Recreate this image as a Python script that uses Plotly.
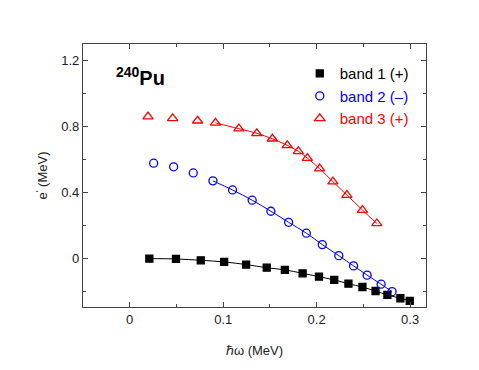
import plotly.graph_objects as go

# band 1 (+)
b1_x = [0.021, 0.0495, 0.076, 0.101, 0.1245, 0.1466, 0.166, 0.185, 0.2025, 0.2188, 0.234, 0.249, 0.263, 0.2757, 0.2896, 0.2996]
b1_y = [0.0, -0.002, -0.01, -0.02, -0.036, -0.055, -0.068, -0.089, -0.109, -0.129, -0.152, -0.172, -0.196, -0.22, -0.24, -0.256]
# band 2 (-)
b2_x = [0.0256, 0.047, 0.068, 0.089, 0.110, 0.131, 0.151, 0.170, 0.189, 0.206, 0.2237, 0.2395, 0.254, 0.269, 0.2807]
b2_y = [0.578, 0.556, 0.519, 0.471, 0.416, 0.354, 0.287, 0.22, 0.154, 0.085, 0.018, -0.044, -0.10, -0.155, -0.20]
# band 3 (+)
b3_x = [0.0196, 0.0459, 0.0726, 0.0918, 0.1168, 0.136, 0.1526, 0.1686, 0.1804, 0.19, 0.2032, 0.2174, 0.2324, 0.249, 0.2644]
b3_y = [0.86, 0.85, 0.835, 0.822, 0.787, 0.759, 0.726, 0.686, 0.65, 0.609, 0.545, 0.466, 0.385, 0.294, 0.213]

# fitted-curve ranges (indices where the line is drawn)
b1_line_start = 0
b2_line_start = 3
b3_line_start = 3

names = ["band 1 (+)", "band 2 (\u2013)", "band 3 (+)"]
colors = ["black", "#0000ff", "#ff0000"]

fig = go.Figure()

series = [
    (b1_x, b1_y, b1_line_start, "square", 7),
    (b2_x, b2_y, b2_line_start, "circle-open", 8),
    (b3_x, b3_y, b3_line_start, "triangle-up-open", 9),
]

for (xs, ys, s, sym, sz), name, col in zip(series, names, colors):
    fig.add_trace(go.Scatter(
        x=xs[s:], y=ys[s:], mode="lines", line=dict(color=col, width=1, shape="spline"),
        showlegend=False, hoverinfo="skip"))
for (xs, ys, s, sym, sz), name, col in zip(series, names, colors):
    fig.add_trace(go.Scatter(
        x=xs, y=ys, mode="markers",
        marker=dict(symbol=sym, size=sz, color=col, line=dict(color=col, width=1.3)),
        name=f"<span style='color:{col}'>{name}</span>"))

axis_common = dict(
    showline=True, linecolor="#444", linewidth=1.3, mirror="ticks",
    ticks="inside", ticklen=5, tickcolor="#444", tickwidth=1,
    showgrid=False, zeroline=False, automargin=False,
    tickfont=dict(size=13, color="#222"),
)

# the page body adds an 8px margin, so the figure is sized to fit the window
fig.update_layout(
    width=471, height=362,
    margin=dict(l=75, r=53, t=36, b=63),
    paper_bgcolor="white", plot_bgcolor="white",
    font=dict(family="Liberation Sans, Arial, sans-serif", color="#222"),
    xaxis=dict(range=[-0.05, 0.317], tickvals=[0, 0.1, 0.2, 0.3], ticktext=["0", "0.1", "0.2", "0.3"],
               minor=dict(ticks="inside", ticklen=3, dtick=0.05, tick0=0, tickcolor="#444"),
               title=dict(text="\u210f\u03c9 (MeV)", font=dict(size=13), standoff=20), **axis_common),
    yaxis=dict(range=[-0.293, 1.30], tickvals=[0, 0.4, 0.8, 1.2], ticktext=["0", "0.4", "0.8", "1.2"],
               minor=dict(ticks="inside", ticklen=3, dtick=0.2, tick0=0, tickcolor="#444"),
               title=dict(text="e<sup>'</sup> (MeV)", font=dict(size=13), standoff=10), **axis_common),
    legend=dict(x=0.632, y=0.95, xanchor="left", yanchor="top", bgcolor="rgba(0,0,0,0)",
                font=dict(size=15), tracegroupgap=0, itemwidth=30),
    annotations=[dict(xref="paper", yref="paper", x=0.09, y=0.878, xanchor="left", yanchor="middle",
                      text="<b><sup>240</sup>Pu</b>", showarrow=False,
                      font=dict(size=20, color="black"))],
)

fig.write_html("out.html")
